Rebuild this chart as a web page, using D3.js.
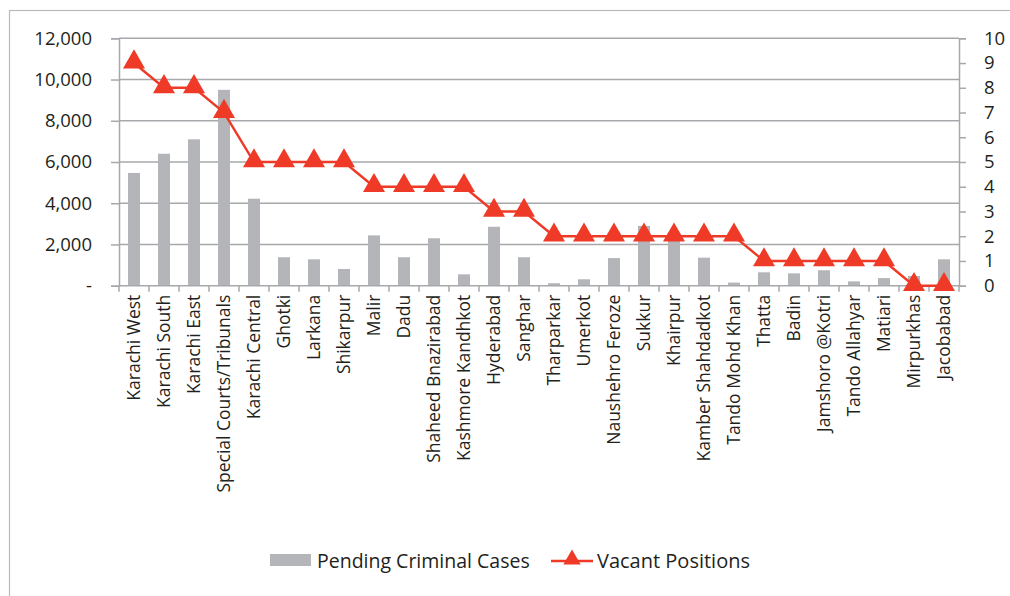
<!DOCTYPE html>
<html>
<head>
<meta charset="utf-8">
<script src="https://cdn.jsdelivr.net/npm/d3@7"></script>
<style>
  html, body { margin: 0; padding: 0; background: #fff; }
  svg { display: block; font-family: "Open Sans", "Noto Sans", sans-serif; }
</style>
</head>
<body>
<svg id="chart" width="1010" height="596"></svg>
<script>
// District-wise pending criminal cases and vacant positions
const districts = [
  "Karachi West", "Karachi South", "Karachi East", "Special Courts/Tribunals",
  "Karachi Central", "Ghotki", "Larkana", "Shikarpur", "Malir", "Dadu",
  "Shaheed Bnazirabad", "Kashmore Kandhkot", "Hyderabad", "Sanghar",
  "Tharparkar", "Umerkot", "Naushehro Feroze", "Sukkur", "Khairpur",
  "Kamber Shahdadkot", "Tando Mohd Khan", "Thatta", "Badin",
  "Jamshoro @Kotri", "Tando Allahyar", "Matiari", "Mirpurkhas", "Jacobabad"
];
const pendingCases = [
  5470, 6400, 7100, 9500, 4220, 1380, 1280, 810, 2440, 1380,
  2300, 550, 2860, 1380, 120, 310, 1340, 2900, 2350, 1360,
  150, 650, 600, 750, 210, 370, 470, 1280
];
const vacantPositions = [
  9, 8, 8, 7, 5, 5, 5, 5, 4, 4,
  4, 4, 3, 3, 2, 2, 2, 2, 2, 2,
  2, 1, 1, 1, 1, 1, 0, 0
];
const leftTicks = [0, 2000, 4000, 6000, 8000, 10000, 12000];
const rightTicks = [0, 1, 2, 3, 4, 5, 6, 7, 8, 9, 10];
const seriesNames = ["Pending Criminal Cases", "Vacant Positions"];

const svg = d3.select("#chart");
const margin = { left: 119, right: 959, top: 38.3, bottom: 285.7 };
const gridColor = "#a7a8ab";
const barColor = "#b4b5b8";
const lineColor = "#ee3a26";
const textColor = "#231f20";

// outer frame
svg.append("rect")
  .attr("x", 9.5).attr("y", 10.5)
  .attr("width", 1100).attr("height", 700)
  .attr("fill", "none").attr("stroke", "#b9babd").attr("stroke-width", 1.2);

const x = d3.scaleBand()
  .domain(districts)
  .range([margin.left, margin.right]);
const xStep = x.step();
const xc = d => x(d) + x.bandwidth() / 2;

const yL = d3.scaleLinear().domain([0, 12000]).range([margin.bottom, margin.top]);
const yR = d3.scaleLinear().domain([0, 10]).range([margin.bottom, margin.top]);

// horizontal gridlines
svg.append("g").selectAll("line")
  .data(leftTicks.filter(t => t > 0))
  .join("line")
  .attr("x1", margin.left).attr("x2", margin.right)
  .attr("y1", d => yL(d)).attr("y2", d => yL(d))
  .attr("stroke", gridColor).attr("stroke-width", 1.5);

// bars
const barW = 12;
svg.append("g").selectAll("rect")
  .data(districts)
  .join("rect")
  .attr("x", d => xc(d) - barW / 2)
  .attr("width", barW)
  .attr("y", (d, i) => yL(pendingCases[i]))
  .attr("height", (d, i) => yL(0) - yL(pendingCases[i]))
  .attr("fill", barColor);

// left axis
const axisL = svg.append("g")
  .attr("transform", `translate(${margin.left},0)`)
  .call(d3.axisLeft(yL).tickValues(leftTicks).tickSize(8).tickPadding(19)
    .tickFormat(d => d === 0 ? "-" : d3.format(",")(d)));
// right axis
const axisR = svg.append("g")
  .attr("transform", `translate(${margin.right},0)`)
  .call(d3.axisRight(yR).tickValues(rightTicks).tickSize(7).tickPadding(18));
// bottom axis; labels only, boundary ticks drawn separately
const axisB = svg.append("g")
  .attr("transform", `translate(0,${margin.bottom})`)
  .call(d3.axisBottom(x).tickSize(0).tickPadding(10));

[axisL, axisR, axisB].forEach(g => {
  g.select(".domain").attr("stroke", gridColor).attr("stroke-width", 1.5);
  g.selectAll(".tick line").attr("stroke", gridColor).attr("stroke-width", 1.5);
  g.selectAll("text").attr("fill", textColor).attr("font-size", 17.5)
    .attr("font-family", "'Open Sans', sans-serif");
});
axisL.selectAll("text").attr("font-size", 18.5);
axisR.selectAll("text").attr("font-size", 18.5);
axisB.select(".domain").attr("d", `M${margin.left},0H${margin.right}`);
axisB.selectAll(".tick text")
  .attr("transform", "rotate(-90)")
  .attr("text-anchor", "end")
  .attr("x", -9).attr("y", 0).attr("dy", "0.35em");

// category boundary ticks
svg.append("g").selectAll("line")
  .data(d3.range(districts.length + 1))
  .join("line")
  .attr("x1", i => margin.left + i * xStep).attr("x2", i => margin.left + i * xStep)
  .attr("y1", margin.bottom).attr("y2", margin.bottom + 6)
  .attr("stroke", gridColor).attr("stroke-width", 1.5);

// vacant positions line
const line = d3.line()
  .x((d, i) => xc(districts[i]))
  .y(d => yR(d));
svg.append("path")
  .datum(vacantPositions)
  .attr("d", line)
  .attr("fill", "none").attr("stroke", lineColor).attr("stroke-width", 2.4);

const tri = d3.symbol().type(d3.symbolTriangle).size(210);
svg.append("g").selectAll("path")
  .data(vacantPositions)
  .join("path")
  .attr("transform", (d, i) => `translate(${xc(districts[i])},${yR(d) - 1})`)
  .attr("d", tri)
  .attr("fill", lineColor);

// legend
const lg = svg.append("g");
lg.append("rect").attr("x", 270).attr("y", 554).attr("width", 41).attr("height", 12)
  .attr("fill", barColor);
lg.append("text").attr("x", 317).attr("y", 561).attr("dy", "0.35em")
  .attr("font-size", 19.5).attr("fill", textColor).text(seriesNames[0]);
lg.append("line").attr("x1", 551).attr("x2", 593).attr("y1", 561).attr("y2", 561)
  .attr("stroke", lineColor).attr("stroke-width", 2.4);
lg.append("path").attr("transform", "translate(572,559.5)")
  .attr("d", d3.symbol().type(d3.symbolTriangle).size(130)).attr("fill", lineColor);
lg.append("text").attr("x", 597).attr("y", 561).attr("dy", "0.35em")
  .attr("font-size", 20).attr("fill", textColor).text(seriesNames[1]);
</script>
</body>
</html>
